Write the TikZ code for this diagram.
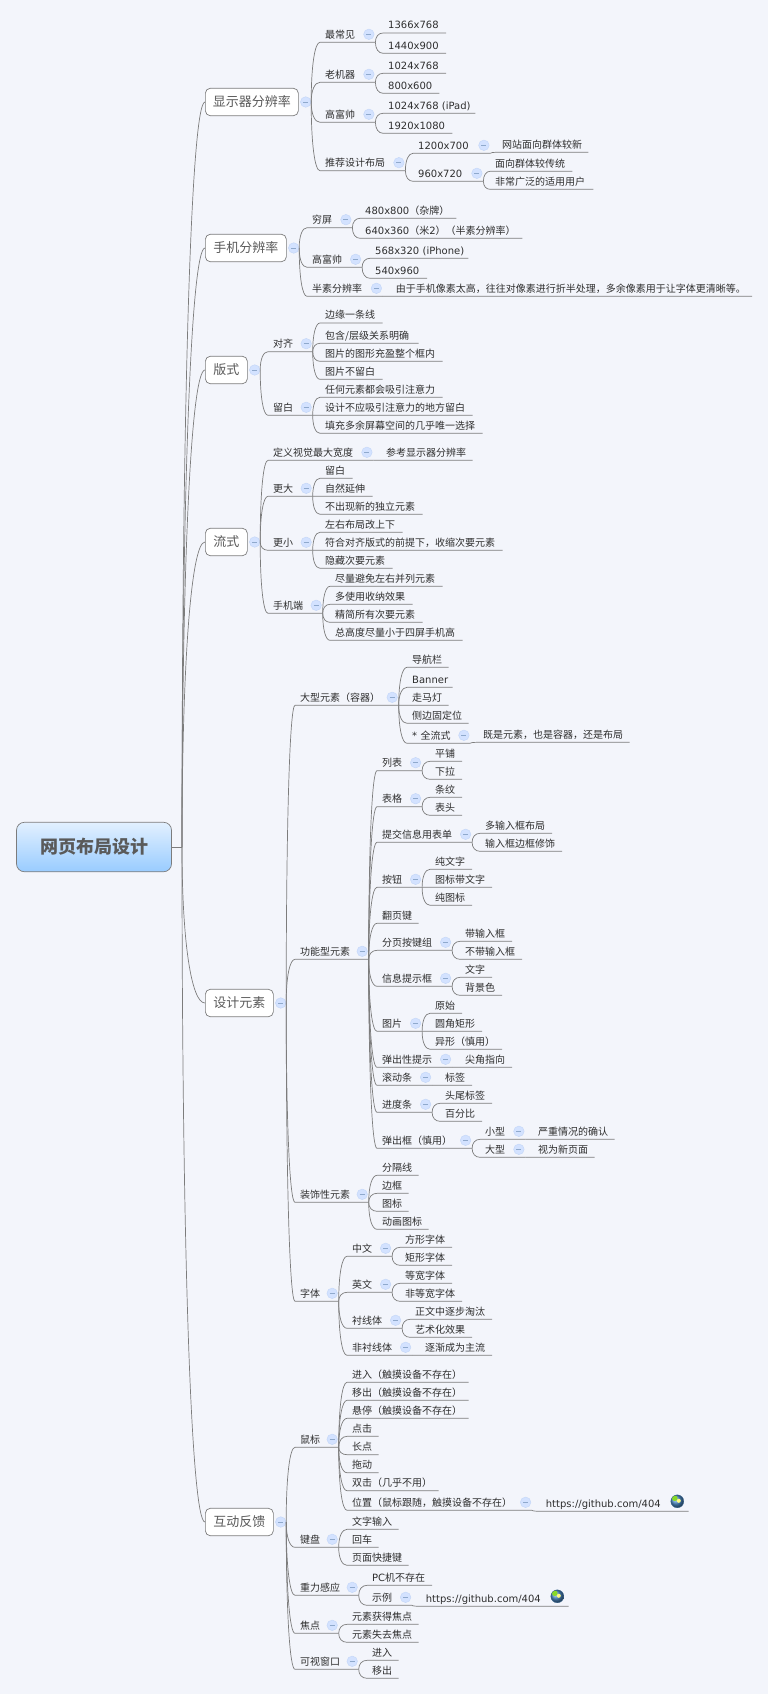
\documentclass[tikz,border=0pt]{standalone}
\usepackage{fontspec}
\setmainfont{Noto Sans CJK SC}
\newfontfamily\lat{DejaVu Sans}
\usetikzlibrary{calc}
\definecolor{paper}{HTML}{F3F5FB}
\definecolor{wire}{HTML}{7C7C7C}
\definecolor{ink}{HTML}{2E2E2E}
\definecolor{boxink}{HTML}{5A5A5A}
\definecolor{rootA}{HTML}{E2F0FF}
\definecolor{rootB}{HTML}{99CCFF}
\definecolor{foldA}{HTML}{D3E2FF}
\definecolor{foldB}{HTML}{C6D8F8}
\definecolor{foldC}{HTML}{8FA9CC}
\definecolor{globeA}{HTML}{4F8FCC}
\tikzset{
  curve/.style={to path={.. controls ($(\tikztostart)!0.6!(\tikztostart |- \tikztotarget)$) and ($(\tikztostart |- \tikztotarget)!0.4!(\tikztotarget)$) .. (\tikztotarget)}},
  link/.style={draw=wire, line width=0.7pt},
  itembox/.style={anchor=south west, inner xsep=0pt, inner ysep=4pt, text depth=0pt, text width=#1, align=left,
    text=ink, font=\fontsize{10}{12}\selectfont, execute at begin node={\hspace*{5pt}}},
  topicbox/.style={draw=wire, fill=white, rounded corners=5pt, line width=0.7pt, inner sep=0pt, minimum height=27.5pt,
    text=boxink, font=\fontsize{13}{15}\selectfont},
  rootbox/.style={draw=wire, rounded corners=8pt, line width=0.7pt, top color=rootA, bottom color=rootB, inner sep=0pt,
    minimum width=155pt, minimum height=49.5pt, text=boxink, font=\fontsize{18}{20}\selectfont\bfseries},
  foldmark/.style={circle, draw=foldB, fill=foldA, line width=0.5pt, inner sep=0pt, minimum size=10.5pt,
    path picture={\draw[foldC, line width=0.6pt] ([xshift=-2.5pt]path picture bounding box.center) -- ([xshift=2.5pt]path picture bounding box.center);}},
  globe/.style={circle, inner sep=0pt, minimum size=13pt, shading=ball, ball color=globeA, draw=globeA!70!black, line width=0.3pt,
    path picture={\fill[green!45!yellow!70!gray] ([shift={(-2.5pt,3pt)}]path picture bounding box.center) circle (2.8pt);
      \fill[yellow!50!white] ([shift={(1.5pt,0.5pt)}]path picture bounding box.center) circle (2pt);}},
}
\begin{document}
\begin{tikzpicture}[x=1pt, y=-1pt]
  \fill[paper] (0,0) rectangle (768,1694);
  \useasboundingbox (0,0) rectangle (768,1694);
  % centre
  \node[rootbox] (root) at (94,847) {网页布局设计};
  \coordinate (trunk) at (182,847);
  \draw[link] (root.east) -- (trunk);
  % first level: name/left/width/y/text
  \foreach \nm/\xa/\bw/\yy/\txt in {disp/205/93/102/显示器分辨率, mob/205/81/248/手机分辨率, fmt/205/42/370/版式,
      flow/205/42/542/流式, elem/205/68/1003/设计元素, act/205/68/1522/互动反馈} {
    \node[topicbox, anchor=west, minimum width=\bw pt] (\nm) at (\xa,\yy) {\txt};
    \node[foldmark] (f\nm) at ([xshift=7pt]\nm.east) {};
    \coordinate (\nm-out) at (f\nm.east);
    \draw[link] (trunk) to[curve] (\nm.west);
  }
  % items: name/parent/left/right/underline/text
  \foreach \nm/\pr/\xa/\xb/\yy/\txt in {
      disp1/disp/320/375/42.3/最常见,
      disp2/disp/320/375/82.3/老机器,
      disp3/disp/320/375/122.3/高富帅,
      disp4/disp/320/405/170.7/推荐设计布局,
      disp11/disp1/383/445.7/33/{\lat 1366x768},
      disp12/disp1/383/445.7/53.3/{\lat 1440x900},
      disp21/disp2/383/445.7/73.3/{\lat 1024x768},
      disp22/disp2/383/439/93.3/{\lat 800x600},
      disp31/disp3/383/475/113.3/{\lat 1024x768 (iPad)},
      disp32/disp3/383/452/133.3/{\lat 1920x1080},
      disp41/disp4/413/490/153.3/{\lat 1200x700},
      disp42/disp4/413/483/181.3/{\lat 960x720},
      disp411/disp41/497/588/152.3/网站面向群体较新,
      disp421/disp42/490/572/171.3/面向群体较传统,
      disp422/disp42/490/593/189.3/非常广泛的适用用户,
      mob1/mob/307/352/227.7/穷屏,
      mob2/mob/307/361.7/267.3/高富帅,
      mob3/mob/307/382.5/296.3/半素分辨率,
      mob11/mob1/360/456/218.3/{{\lat 480x800}（杂牌）},
      mob12/mob1/360/522/238.3/{{\lat 640x360}（米{\lat 2}）（半素分辨率）},
      mob21/mob2/370/468/258.3/{\lat 568x320 (iPhone)},
      mob22/mob2/370/426.7/278.3/{\lat 540x960},
      mob31/mob3/390.7/751.7/296.3/由于手机像素太高，往往对像素进行折半处理，多余像素用于让字体更清晰等。,
      fmt1/fmt/268/312.3/351.7/对齐,
      fmt2/fmt/268/312.3/415.3/留白,
      fmt11/fmt1/320/382.3/323/边缘一条线,
      fmt12/fmt1/320/418.3/343.3/{包含/层级关系明确},
      fmt13/fmt1/320/442.3/361.3/图片的图形充盈整个框内,
      fmt14/fmt1/320/382.3/379.3/图片不留白,
      fmt21/fmt2/320/442.3/397.3/任何元素都会吸引注意力,
      fmt22/fmt2/320/472.3/415.3/设计不应吸引注意力的地方留白,
      fmt23/fmt2/320/482.3/433.3/填充多余屏幕空间的几乎唯一选择,
      flow1/flow/268/373/460.3/定义视觉最大宽度,
      flow2/flow/268/312.3/496.3/更大,
      flow3/flow/268/312.3/550.3/更小,
      flow4/flow/268/322.3/613.3/手机端,
      flow11/flow1/381/472.3/460.3/参考显示器分辨率,
      flow21/flow2/320/352.3/478.3/留白,
      flow22/flow2/320/372.3/496.3/自然延伸,
      flow23/flow2/320/422.3/514.3/不出现新的独立元素,
      flow31/flow3/320/402.3/532.3/左右布局改上下,
      flow32/flow3/320/502.3/550.3/符合对齐版式的前提下，收缩次要元素,
      flow33/flow3/320/392.3/568.3/隐藏次要元素,
      flow41/flow4/330/442.3/586.3/尽量避免左右并列元素,
      flow42/flow4/330/412.3/604.3/多使用收纳效果,
      flow43/flow4/330/422.3/622.3/精简所有次要元素,
      flow44/flow4/330/462.3/640.3/总高度尽量小于四屏手机高,
      big/elem/295/398.3/705.3/大型元素（容器）,
      func/elem/295/368.3/959.3/功能型元素,
      deco/elem/295/368.3/1202.3/装饰性元素,
      font/elem/295/338.3/1301.3/字体,
      big1/big/407/448.3/667.3/导航栏,
      big2/big/407/452.3/687.3/{\lat Banner},
      big3/big/407/448.3/705.3/走马灯,
      big4/big/407/468.3/723.3/侧边固定位,
      big5/big/407/470/743.3/{{\lat *} 全流式},
      big51/big5/478/629.3/742.3/既是元素，也是容器，还是布局,
      func1/func/377/421.7/770.7/列表,
      func2/func/377/421.7/806.7/表格,
      func3/func/377/471.7/842.3/提交信息用表单,
      func4/func/377/421.7/887.3/按钮,
      func5/func/377/418.3/923.3/翻页键,
      func6/func/377/451.7/950.3/分页按键组,
      func7/func/377/451.7/986.3/信息提示框,
      func8/func/377/421.7/1031.3/图片,
      func9/func/377/451.7/1067.3/弹出性提示,
      funcA/func/377/431.7/1085.3/滚动条,
      funcB/func/377/431.7/1112.3/进度条,
      funcC/func/377/471.7/1148.3/弹出框（慎用）,
      func11/func1/430/461.7/761.3/平铺,
      func12/func1/430/461.7/779.3/下拉,
      func21/func2/430/461.7/797.3/条纹,
      func22/func2/430/461.7/815.3/表头,
      func31/func3/480/551.7/833.3/多输入框布局,
      func32/func3/480/561.7/851.3/输入框边框修饰,
      func41/func4/430/471.7/869.3/纯文字,
      func42/func4/430/491.7/887.3/图标带文字,
      func43/func4/430/471.7/905.3/纯图标,
      func61/func6/460/511.7/941.3/带输入框,
      func62/func6/460/521.7/959.3/不带输入框,
      func71/func7/460/491.7/977.3/文字,
      func72/func7/460/501.7/995.3/背景色,
      func81/func8/430/461.7/1013.3/原始,
      func82/func8/430/481.7/1031.3/圆角矩形,
      func83/func8/430/501.7/1049.3/异形（慎用）,
      func91/func9/460/511.7/1067.3/尖角指向,
      funcA1/funcA/440/471.7/1085.3/标签,
      funcB1/funcB/440/491.7/1103.3/头尾标签,
      funcB2/funcB/440/481.7/1121.3/百分比,
      funcC1/funcC/480/525/1139.3/小型,
      funcC2/funcC/480/525/1157.3/大型,
      funcC11/funcC1/533/614.3/1139.3/严重情况的确认,
      funcC21/funcC2/533/594.3/1157.3/视为新页面,
      deco1/deco/377/418.3/1175.3/分隔线,
      deco2/deco/377/408.3/1193.3/边框,
      deco3/deco/377/408.3/1211.3/图标,
      deco4/deco/377/428.3/1229.3/动画图标,
      font1/font/347/391.7/1256.3/中文,
      font2/font/347/391.7/1292.3/英文,
      font3/font/347/401.7/1328.3/衬线体,
      font4/font/347/411.7/1355.3/非衬线体,
      font11/font1/400/451.7/1247.3/方形字体,
      font12/font1/400/451.7/1265.3/矩形字体,
      font21/font2/400/451.7/1283.3/等宽字体,
      font22/font2/400/461.7/1301.3/非等宽字体,
      font31/font3/410/491.7/1319.3/正文中逐步淘汰,
      font32/font3/410/471.7/1337.3/艺术化效果,
      font41/font4/420/491.7/1355.3/逐渐成为主流,
      mouse/act/295/338.3/1447.3/鼠标,
      keys/act/295/338.3/1547.3/键盘,
      grav/act/295/358.3/1595.3/重力感应,
      focus/act/295/338.3/1633.3/焦点,
      view/act/295/358.3/1669.3/可视窗口,
      mouse1/mouse/347/468.3/1382.3/进入（触摸设备不存在）,
      mouse2/mouse/347/468.3/1400.3/移出（触摸设备不存在）,
      mouse3/mouse/347/468.3/1418.3/悬停（触摸设备不存在）,
      mouse4/mouse/347/378.3/1436.3/点击,
      mouse5/mouse/347/378.3/1454.7/长点,
      mouse6/mouse/347/378.3/1472.7/拖动,
      mouse7/mouse/347/438.3/1490.7/双击（几乎不用）,
      mouse8/mouse/347/531.7/1510.3/位置（鼠标跟随，触摸设备不存在）,
      mouse81/mouse8/540.7/688.3/1511.3/{\lat https://github.com/404},
      keys1/keys/347/398.3/1529.3/文字输入,
      keys2/keys/347/378.3/1547.3/回车,
      keys3/keys/347/408.3/1565.3/页面快捷键,
      grav1/grav/367/431.7/1585.3/{{\lat PC}机不存在},
      grav2/grav/367/411.7/1605.3/示例,
      grav21/grav2/420.7/568.3/1606.3/{\lat https://github.com/404},
      focus1/focus/347/418.3/1624.3/元素获得焦点,
      focus2/focus/347/418.3/1642.3/元素失去焦点,
      view1/view/367/398.3/1660.3/进入,
      view2/view/367/398.3/1678.3/移出} {
    \pgfmathsetlengthmacro{\bw}{\xb-\xa}
    \node[itembox=\bw] (\nm) at (\xa,\yy) {\txt};
    \coordinate (\nm-out) at (\nm.south east);
    \draw[link] (\pr-out) to[curve] (\nm.south west) -- (\nm.south east);
  }
  % fold marks
  \foreach \nm in {disp1,disp2,disp3,disp4,disp41,disp42,mob1,mob2,mob3,fmt1,fmt2,flow1,flow2,flow3,flow4,
      big,big5,func,deco,font,func1,func2,func3,func4,func6,func7,func8,func9,funcA,funcB,funcC,funcC1,funcC2,
      font1,font2,font3,font4,mouse,mouse8,keys,grav,grav2,focus,view} {
    \node[foldmark] (f\nm) at ([xshift=-6.5pt,yshift=8pt]\nm.south east) {};
  }
  % link icons
  \node[globe] (globeA) at (677.3,1501.3) {};
  \node[globe] (globeB) at (557.3,1596.3) {};
\end{tikzpicture}
\end{document}
